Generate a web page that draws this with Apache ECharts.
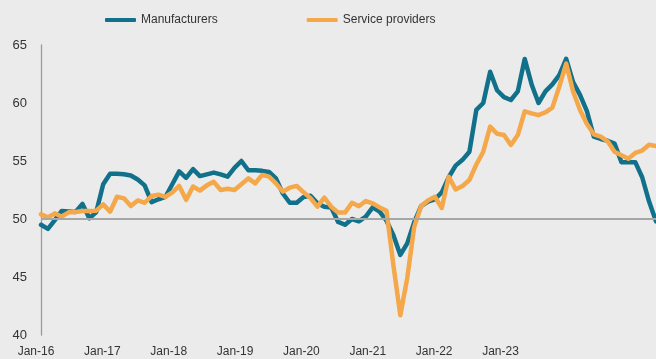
<!DOCTYPE html>
<html>
<head>
<meta charset="utf-8">
<script src="https://cdn.jsdelivr.net/npm/echarts@6/dist/echarts.min.js"></script>
<style>
html,body{margin:0;padding:0;background:#ebebeb;}
#chart{width:656px;height:359px;}
</style>
</head>
<body>
<div id="chart"></div>
<script>
// Monthly observations starting Jan-16
const startYear = 2016;
const monthCount = 90;
const monthNames = ['Jan','Feb','Mar','Apr','May','Jun','Jul','Aug','Sep','Oct','Nov','Dec'];
const months = [];
for (let i = 0; i < monthCount; i++) {
  months.push(monthNames[i % 12] + '-' + String((startYear + Math.floor(i / 12)) % 100));
}

const manufacturers = [
  49.5, 49.15, 49.9, 50.7, 50.65, 50.6, 51.3, 50.06, 50.6, 53.0,
  53.9, 53.9, 53.85, 53.75, 53.4, 52.9, 51.45, 51.7, 51.9, 53.0,
  54.1, 53.55, 54.3, 53.7, 53.85, 54.0, 53.85, 53.65, 54.4, 55.0,
  54.2, 54.2, 54.15, 54.05, 53.5, 52.2, 51.4, 51.4, 51.9, 52.0,
  51.35, 51.06, 50.98, 49.75, 49.5, 50.0, 49.8, 50.2, 51.0, 50.63,
  49.85, 48.6, 46.9, 47.9, 49.7, 51.1, 51.5, 51.7, 52.3, 53.6,
  54.6, 55.1, 55.8, 59.4, 60.0, 62.7, 61.1, 60.5, 60.26, 61.0,
  63.8, 61.6, 60.0, 61.0, 61.6, 62.4, 63.8, 61.8, 60.7, 59.3,
  57.1, 56.9, 56.75, 56.5, 54.9, 54.9, 54.9, 53.6, 51.5, 49.8
];

const serviceProviders = [
  50.4, 50.14, 50.49, 50.2, 50.58, 50.6, 50.69, 50.7, 50.72, 51.26,
  50.63, 51.92, 51.78, 51.12, 51.6, 51.4, 51.98, 52.1, 51.9, 52.3,
  52.85, 51.65, 52.8, 52.45, 52.9, 53.2, 52.5, 52.6, 52.5, 53.0,
  53.5, 53.07, 53.8, 53.65, 53.07, 52.36, 52.7, 52.85, 52.3, 51.8,
  51.06, 51.84, 51.06, 50.55, 50.55, 51.4, 51.1, 51.55, 51.35, 51.0,
  50.7, 46.0, 41.7, 44.9, 49.3, 51.1, 51.6, 51.92, 50.95, 53.65,
  52.55, 52.85, 53.36, 54.7, 55.8, 57.96, 57.35, 57.24, 56.38, 57.24,
  59.28, 59.1, 58.95, 59.2, 59.6, 61.4, 63.4, 61.0, 59.4, 58.2,
  57.3, 57.1, 56.7, 55.8, 55.5, 55.2, 55.7, 55.9, 56.4, 56.3
];

const tickLabels = ['Jan-16','Jan-17','Jan-18','Jan-19','Jan-20','Jan-21','Jan-22','Jan-23'];
const yTicks = [40, 45, 50, 55, 60, 65];
const referenceLevel = 50;

const labelStep = 9.603;
const font = "'Liberation Sans', Arial, sans-serif";

const chart = echarts.init(document.getElementById('chart'), null, {renderer: 'canvas'});
chart.setOption({
  animation: false,
  backgroundColor: '#ebebeb',
  textStyle: {fontFamily: font},
  grid: {left: 41, right: 0, top: 45, bottom: 24, containLabel: false},
  legend: {
    data: ['Manufacturers', 'Service providers'],
    left: 100,
    top: 9,
    icon: 'roundRect',
    itemWidth: 31,
    itemHeight: 4,
    itemGap: 89,
    textStyle: {fontSize: 12, color: '#333333', fontFamily: font}
  },
  xAxis: [
    {
      type: 'category',
      data: months,
      boundaryGap: false,
      axisLine: {show: false},
      axisTick: {show: false},
      axisLabel: {show: false},
      splitLine: {show: false}
    },
    {
      type: 'value',
      min: 0,
      max: monthCount - 1,
      interval: labelStep,
      position: 'bottom',
      axisLine: {show: false},
      axisTick: {show: false},
      splitLine: {show: false},
      axisLabel: {
        show: true,
        margin: 11,
        fontSize: 12,
        color: '#333333',
        fontFamily: font,
        padding: [0, 10, 0, 0],
        showMaxLabel: false,
        formatter: function (v) {
          const k = Math.round(v / labelStep);
          return tickLabels[k] || '';
        }
      }
    }
  ],
  yAxis: {
    type: 'value',
    min: yTicks[0],
    max: yTicks[yTicks.length - 1],
    interval: 5,
    axisLine: {show: true, lineStyle: {color: '#9a9a9a', width: 1.3}},
    axisTick: {show: false},
    splitLine: {show: false},
    axisLabel: {fontSize: 13, color: '#333333', margin: 14, fontFamily: font}
  },
  series: [
    {
      name: 'ref',
      type: 'line',
      data: [],
      z: 1,
      silent: true,
      markLine: {
        silent: true,
        symbol: 'none',
        label: {show: false},
        lineStyle: {color: '#a6a6a6', width: 2, type: 'solid'},
        data: [{yAxis: referenceLevel}]
      }
    },
    {
      name: 'Manufacturers',
      type: 'line',
      data: manufacturers,
      z: 3,
      showSymbol: false,
      symbol: 'none',
      itemStyle: {color: '#11708a'},
      lineStyle: {color: '#11708a', width: 4.5, join: 'round', cap: 'round'}
    },
    {
      name: 'Service providers',
      type: 'line',
      data: serviceProviders,
      z: 4,
      showSymbol: false,
      symbol: 'none',
      itemStyle: {color: '#f4a84a'},
      lineStyle: {color: '#f4a84a', width: 4.5, join: 'round', cap: 'round'}
    }
  ]
});
</script>
</body>
</html>
